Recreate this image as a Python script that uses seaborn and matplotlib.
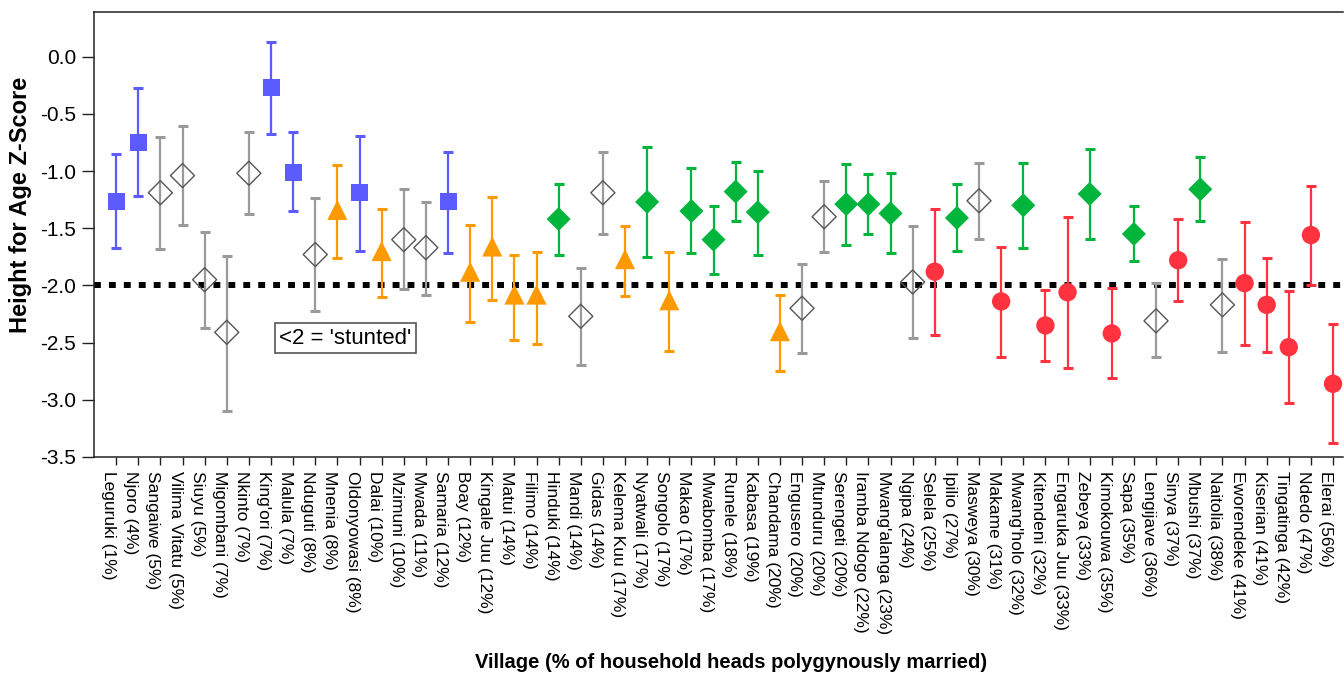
import numpy as np
import pandas as pd
import matplotlib
matplotlib.use("Agg")
import matplotlib.pyplot as plt
import seaborn as sns

# village data, ordered by % of household heads polygynously married
villages = ["Leguruki", "Njoro", "Sangaiwe", "Vilima Vitatu", "Siuyu", "Migombani", "Nkinto",
            "King'ori", "Malula", "Nduguti", "Mnenia", "Oldonyowasi", "Dalai", "Mzimuni", "Mwada",
            "Samaria", "Boay", "Kingale Juu", "Matui", "Filimo", "Hinduki", "Mandi", "Gidas",
            "Kelema Kuu", "Nyatwali", "Songolo", "Makao", "Mwabomba", "Runele", "Kabasa",
            "Chandama", "Engusero", "Mtunduru", "Serengeti", "Iramba Ndogo", "Mwang'alanga",
            "Ngipa", "Selela", "Ipilio", "Masweya", "Makame", "Mwang'holo", "Kitendeni",
            "Engaruka Juu", "Zebeya", "Kimokouwa", "Sapa", "Lengijave", "Sinya", "Mbushi",
            "Naitolia", "Eworendeke", "Kiserian", "Tingatinga", "Ndedo", "Elerai"]
pct = [1, 4, 5, 5, 5, 7, 7, 7, 7, 8, 8, 8, 10, 10, 11, 12, 12, 12, 14, 14, 14, 14, 14,
       17, 17, 17, 17, 17, 18, 19, 20, 20, 20, 20, 22, 23, 24, 25, 27, 30, 31, 32, 32,
       33, 33, 35, 35, 36, 37, 37, 38, 41, 41, 42, 47, 56]
group = ["blue", "blue", "gray", "gray", "gray", "gray", "gray", "blue", "blue", "gray",
         "orange", "blue", "orange", "gray", "gray", "blue", "orange", "orange", "orange",
         "orange", "green", "gray", "gray", "orange", "green", "orange", "green", "green",
         "green", "green", "orange", "gray", "gray", "green", "green", "green", "gray",
         "red", "green", "gray", "red", "green", "red", "red", "green", "red", "green",
         "gray", "red", "green", "gray", "red", "red", "red", "red", "red"]
haz = [-1.27, -0.75, -1.19, -1.04, -1.95, -2.41, -1.02, -0.27, -1.01, -1.73, -1.34, -1.19,
       -1.70, -1.60, -1.67, -1.27, -1.88, -1.66, -2.08, -2.08, -1.42, -2.27, -1.19, -1.77,
       -1.27, -2.13, -1.35, -1.60, -1.18, -1.36, -2.40, -2.20, -1.40, -1.29, -1.29, -1.37,
       -1.97, -1.88, -1.41, -1.26, -2.14, -1.30, -2.35, -2.06, -1.20, -2.42, -1.55, -2.31,
       -1.78, -1.16, -2.17, -1.98, -2.17, -2.54, -1.56, -2.86]
lower = [-1.67, -1.22, -1.68, -1.47, -2.37, -3.10, -1.38, -0.68, -1.35, -2.22, -1.76, -1.70,
         -2.10, -2.03, -2.08, -1.72, -2.32, -2.13, -2.48, -2.51, -1.73, -2.70, -1.55, -2.09,
         -1.75, -2.57, -1.72, -1.90, -1.44, -1.73, -2.75, -2.59, -1.71, -1.65, -1.55, -1.72,
         -2.46, -2.43, -1.70, -1.59, -2.63, -1.67, -2.66, -2.72, -1.59, -2.81, -1.79, -2.63,
         -2.14, -1.44, -2.58, -2.52, -2.58, -3.03, -2.00, -3.38]
upper = [-0.85, -0.27, -0.70, -0.61, -1.53, -1.74, -0.66, 0.13, -0.66, -1.24, -0.95, -0.69,
         -1.33, -1.16, -1.27, -0.83, -1.47, -1.23, -1.73, -1.71, -1.11, -1.85, -0.83, -1.48,
         -0.79, -1.71, -0.97, -1.31, -0.92, -1.00, -2.08, -1.81, -1.09, -0.94, -1.03, -1.02,
         -1.48, -1.33, -1.11, -0.93, -1.66, -0.93, -2.04, -1.40, -0.81, -2.02, -1.31, -1.98,
         -1.42, -0.88, -1.77, -1.45, -1.76, -2.05, -1.13, -2.34]

palette = {"blue": "#5b5bff", "orange": "#ff9900", "green": "#00b53c", "red": "#ff333f",
           "gray": "#9a9a9a"}
markers = {"blue": "s", "orange": "^", "green": "D", "red": "o"}
sizes = {"blue": 150, "orange": 210, "green": 150, "red": 175}

df = pd.DataFrame({"village": villages, "pct": pct, "group": group,
                   "haz": haz, "lower": lower, "upper": upper})
df["x"] = np.arange(len(df))
df["label"] = df["village"] + " (" + df["pct"].astype(str) + "%)"

sns.set_theme(style="ticks")
plt.rcParams["font.family"] = ["Liberation Sans", "DejaVu Sans"]
plt.rcParams["axes.unicode_minus"] = False
plt.rcParams["text.color"] = "black"
plt.rcParams["axes.labelcolor"] = "black"
plt.rcParams["xtick.color"] = "black"
plt.rcParams["ytick.color"] = "black"

fig = plt.figure(figsize=(13.44, 6.73), dpi=100)
ax = fig.add_axes([94 / 1344, 1 - 457 / 673, 1249 / 1344, 445 / 673])

# stunting threshold
ax.axhline(-2.0, color="black", lw=4.3, linestyle=(0, (1.15, 1.35)), zorder=1)

# error bars
for g, sub in df.groupby("group"):
    ax.errorbar(sub["x"], sub["haz"],
                yerr=[sub["haz"] - sub["lower"], sub["upper"] - sub["haz"]],
                fmt="none", ecolor=palette[g], elinewidth=1.6, capsize=3.5,
                capthick=2.2, zorder=2)

filled = df[df["group"] != "gray"]
sns.scatterplot(data=filled, x="x", y="haz", hue="group", style="group", size="group",
                palette=palette, markers=markers, sizes=sizes, linewidth=0,
                legend=False, ax=ax, zorder=3)

open_pts = df[df["group"] == "gray"]
sns.scatterplot(data=open_pts, x="x", y="haz", marker="D", s=150, color="#555555",
                facecolor="none", edgecolor="#555555", linewidth=1.0, legend=False,
                ax=ax, zorder=3)

ax.text(10.35, -2.46, "<2 = 'stunted'", ha="center", va="center", fontsize=16,
        bbox=dict(boxstyle="square,pad=0.2", fc="white", ec="#555555", lw=1.2), zorder=4)

ax.set_xlim(-1, 55.45)
ax.set_ylim(-3.5, 0.39)
ax.set_yticks(np.arange(-3.5, 0.01, 0.5))
ax.set_yticklabels([f"{v:.1f}" for v in np.arange(-3.5, 0.01, 0.5)], fontsize=15)
ax.set_xticks(df["x"])
ax.set_xticklabels(df["label"], rotation=270, ha="right", va="top", fontsize=12.5)

ax.tick_params(axis="x", length=6, width=1, pad=4, color="#222222")
ax.tick_params(axis="y", length=9, width=1, pad=4, color="#222222")
for side in ["left", "top", "bottom"]:
    ax.spines[side].set_color("#222222")
    ax.spines[side].set_linewidth(1.1)
ax.spines["right"].set_visible(False)

ax.set_xlabel("Village (% of household heads polygynously married)", fontsize=14.5,
              fontweight="bold")
ax.set_ylabel("Height for Age Z-Score", fontsize=17, fontweight="bold")
ax.xaxis.set_label_coords(0.51, -0.44)
ax.yaxis.set_label_coords(-0.05, 0.566)

fig.savefig("out.png", dpi=100)
